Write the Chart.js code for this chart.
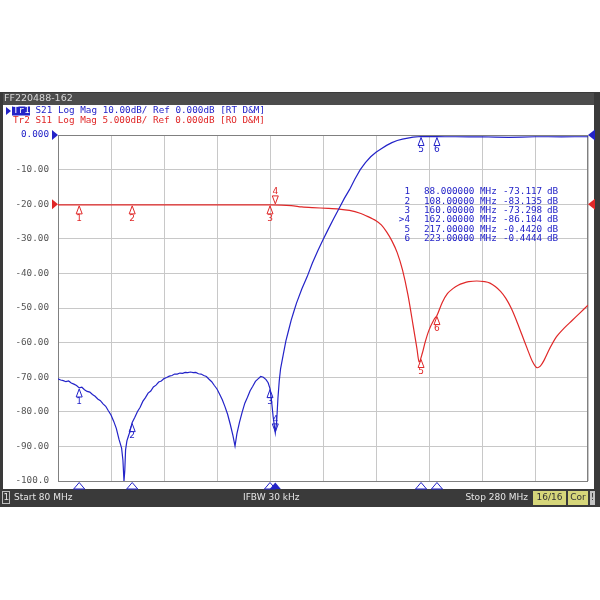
<!DOCTYPE html>
<html>
<head>
<meta charset="utf-8">
<script src="https://cdn.jsdelivr.net/npm/chart.js@4"></script>
<style>
  html, body { margin: 0; padding: 0; background: #fff; }
  #wrap { width: 600px; height: 600px; }
</style>
</head>
<body>
<div id="wrap"><canvas id="vna" width="600" height="600"></canvas></div>
<script>
// Tr1 S21 (dB), 10 dB/div
const s21Freq = [80, 81, 82, 83, 84, 85, 86, 87, 88, 89, 90, 91, 92, 93, 94, 95, 96, 97, 98, 99,
  100, 101, 102, 103, 104, 104.5, 104.9, 105.2, 105.5, 106, 106.5, 107, 108, 109, 110, 111, 112, 113, 114, 115,
  116, 117, 118, 119, 120, 121, 122, 123, 124, 125, 126, 127, 128, 129, 130, 131, 132, 133, 134, 135,
  136, 137, 138, 139, 140, 141, 142, 143, 144, 145, 146, 146.8, 147.5, 148.5, 149.5, 150.5, 151.5, 152.5, 153.5, 154.5,
  155.5, 156.5, 157.5, 158.5, 159.3, 160, 160.6, 161.2, 162, 162.5, 163, 163.5, 164, 165, 166, 167, 168, 169, 170, 172,
  174, 176, 178, 180, 182, 184, 186, 188, 190, 192, 194, 196, 198, 200, 202, 204, 206, 208, 210, 212,
  214, 217, 220, 223, 226, 230, 235, 240, 245, 250, 255, 260, 265, 270, 275, 280];
const s21Db = [-70.5, -70.8, -71.0, -71.3, -71.1, -71.7, -72.0, -72.4, -73.1, -72.9, -73.6, -74.1, -74.3, -75.0, -75.5, -76.3, -76.8, -77.7, -78.4, -79.7,
  -80.9, -82.7, -84.8, -87.9, -90.5, -94.0, -100, -97.0, -91.0, -88.4, -87.2, -86.0, -83.1, -81.6, -79.9, -78.7, -77.0, -75.9, -74.6, -74.0,
  -72.8, -72.3, -71.4, -71.1, -70.4, -70.1, -69.7, -69.5, -69.1, -69.1, -68.8, -68.9, -68.6, -68.7, -68.5, -68.7, -68.6, -69.0, -69.1, -69.5,
  -69.8, -70.6, -71.3, -72.4, -73.4, -74.9, -76.5, -78.5, -80.7, -83.6, -86.8, -89.9, -86.4, -83.0, -80.1, -77.5, -75.8, -73.9, -72.6, -71.2,
  -70.5, -69.8, -70.0, -70.7, -71.6, -73.3, -77.0, -81.5, -86.1, -83.0, -76.0, -71.0, -67.5, -63.5, -59.5, -56.5, -53.5, -51.0, -48.6, -44.5,
  -41.0, -37.0, -33.5, -30.3, -27.2, -24.2, -21.3, -18.4, -15.8, -12.8, -10.1, -8.0, -6.3, -5.0, -4.0, -3.0, -2.2, -1.6, -1.2, -0.9,
  -0.6, -0.44, -0.45, -0.44, -0.5, -0.5, -0.55, -0.5, -0.6, -0.7, -0.6, -0.5, -0.5, -0.55, -0.5, -0.5];

// Tr2 S11 (dB), 5 dB/div, ref 0 dB on the -20 line
const s11Freq = [80, 100, 120, 140, 160, 168, 172, 176, 182, 186, 190, 194, 197, 200, 202, 204, 206, 208, 210, 212,
  214, 215.5, 216.3, 217.5, 218.5, 220, 222, 223, 225, 227, 229, 231, 233, 235, 238, 241, 243, 245, 247, 249,
  251, 253, 255, 257, 259, 260.6, 262, 263.5, 265.5, 268, 271, 274, 277, 280];
const s11Db = [-0.1, -0.1, -0.1, -0.1, -0.1, -0.2, -0.4, -0.5, -0.6, -0.7, -0.9, -1.3, -1.8, -2.4, -3.0, -4.0, -5.3, -7.0, -9.5, -13.0,
  -17.5, -21.0, -22.8, -21.5, -20.0, -18.2, -16.6, -16.1, -14.2, -12.9, -12.2, -11.7, -11.4, -11.2, -11.1, -11.2, -11.4, -11.9, -12.6, -13.6,
  -15.0, -16.8, -18.8, -20.8, -22.7, -23.6, -23.4, -22.5, -20.9, -19.2, -17.9, -16.8, -15.7, -14.6];

// markers
const markerNo = ['1', '2', '3', '4', '5', '6'];
const markerFreq = [88, 108, 160, 162, 217, 223];
const markerS21 = [-73.117, -83.135, -73.298, -86.104, -0.4420, -0.4444];
const markerS11 = [-0.1, -0.1, -0.1, -0.1, -22.3, -16.1];
const activeMarker = 3;

const BLUE = '#2323c8';
const RED = '#e02828';
const MONO = '"DejaVu Sans Mono", monospace';
const SANS = '"DejaVu Sans", sans-serif';

function tri(c, x, y, w, h, dir, fill) {
  c.beginPath();
  if (dir === 'up') { c.moveTo(x, y); c.lineTo(x - w / 2, y + h); c.lineTo(x + w / 2, y + h); }
  if (dir === 'down') { c.moveTo(x, y); c.lineTo(x - w / 2, y - h); c.lineTo(x + w / 2, y - h); }
  if (dir === 'right') { c.moveTo(x, y); c.lineTo(x - h, y - w / 2); c.lineTo(x - h, y + w / 2); }
  if (dir === 'left') { c.moveTo(x, y); c.lineTo(x + h, y - w / 2); c.lineTo(x + h, y + w / 2); }
  c.closePath();
  if (fill) c.fill(); else c.stroke();
}

function traceMarker(c, x, y, label, color, active) {
  c.strokeStyle = color; c.fillStyle = color; c.lineWidth = 1;
  c.font = '9px ' + SANS;
  c.textAlign = 'center';
  if (active) {
    tri(c, x, y - 1, 6, 8, 'down', false);
    c.textBaseline = 'bottom';
    c.fillText(label, x, y - 9);
  } else {
    tri(c, x, y + 1, 6, 8, 'up', false);
    c.textBaseline = 'top';
    c.fillText(label, x, y + 9);
  }
}

const frame = {
  id: 'frame',
  beforeDraw(chart) {
    const c = chart.ctx;
    c.save();
    c.fillStyle = '#fff'; c.fillRect(0, 0, 600, 600);
    c.fillStyle = '#3a3a3a'; c.fillRect(0, 92, 600, 415);
    c.fillStyle = '#4c4c4c'; c.fillRect(3, 93, 591, 12);
    c.fillStyle = '#fff'; c.fillRect(3, 105, 591, 384);

    c.font = '9.5px ' + SANS;
    c.textBaseline = 'middle'; c.textAlign = 'left';
    c.fillStyle = '#d8d8d8';
    c.fillText('FF220488-162', 4, 99);

    // trace header lines
    c.font = '9.3px ' + MONO;
    c.fillStyle = BLUE;
    tri(c, 11, 111, 8, 5, 'right', true);
    c.fillRect(12, 106.5, 18, 9);
    c.fillStyle = '#fff';
    c.fillText('Tr1', 13, 111);
    c.fillStyle = BLUE;
    c.fillText('S21 Log Mag 10.00dB/ Ref 0.000dB [RT D&M]', 35.5, 111);
    c.fillStyle = RED;
    c.fillText('Tr2 S11 Log Mag 5.000dB/ Ref 0.000dB [RO D&M]', 13, 120.5);

    // status bar
    c.fillStyle = '#3a3a3a'; c.fillRect(0, 489, 600, 18);
    c.strokeStyle = '#bdbdbd'; c.lineWidth = 1;
    c.strokeRect(2.5, 491.5, 7, 12);
    c.font = '9px ' + SANS;
    c.fillStyle = '#e6e6e6';
    c.fillText('1', 3.5, 498);
    c.fillText('Start 80 MHz', 14, 498);
    c.fillText('IFBW 30 kHz', 243, 498);
    c.textAlign = 'right';
    c.fillText('Stop 280 MHz', 528, 498);
    c.fillStyle = '#d6d67a';
    c.fillRect(533, 491, 33, 14);
    c.fillRect(568, 491, 20, 14);
    c.fillStyle = '#c4c4c4';
    c.fillRect(590, 491, 5, 14);
    c.fillStyle = '#333';
    c.textAlign = 'center';
    c.fillText('16/16', 549.5, 498);
    c.fillText('Cor', 578, 498);
    c.fillText('!', 592.5, 498);
    c.restore();
  },
  beforeDatasetsDraw(chart) {
    const c = chart.ctx, a = chart.chartArea;
    c.save();
    c.strokeStyle = '#808080'; c.lineWidth = 1;
    c.strokeRect(a.left + 0.5, a.top + 0.5, a.width - 1, a.height);
    c.restore();
  },
  afterDatasetsDraw(chart) {
    const c = chart.ctx, a = chart.chartArea;
    const x = chart.scales.x, y = chart.scales.y, y2 = chart.scales.y2;
    c.save();
    // reference level arrows
    c.fillStyle = BLUE;
    tri(c, a.left, y.getPixelForValue(0), 10, 6, 'right', true);
    tri(c, a.right, y.getPixelForValue(0), 11, 7, 'left', true);
    c.fillStyle = RED;
    tri(c, a.left, y2.getPixelForValue(0), 10, 6, 'right', true);
    tri(c, a.right, y2.getPixelForValue(0), 11, 7, 'left', true);

    // markers on the traces
    markerFreq.forEach((f, i) => {
      const px = x.getPixelForValue(f);
      const act = i === activeMarker;
      traceMarker(c, px, y.getPixelForValue(markerS21[i]), markerNo[i], BLUE, act);
      traceMarker(c, px, y2.getPixelForValue(markerS11[i]), markerNo[i], RED, act);
      // stimulus markers under the grid
      c.strokeStyle = BLUE; c.fillStyle = BLUE;
      tri(c, px, a.bottom + 1.5, 11, 6.5, 'up', act);
    });

    // marker readout table
    c.font = '9.3px ' + MONO;
    c.fillStyle = BLUE;
    c.textBaseline = 'middle';
    markerFreq.forEach((f, i) => {
      const ty = 192 + i * 9.35;
      c.textAlign = 'right';
      c.fillText((i === activeMarker ? '>' : '') + markerNo[i], 410, ty);
      c.textAlign = 'left';
      const fs = f >= 100 ? f.toFixed(5) : f.toFixed(6);
      c.fillText(fs, 424, ty);
      c.fillText('MHz', 480, ty);
      const v = Math.abs(markerS21[i]) < 1 ? markerS21[i].toFixed(4) : markerS21[i].toFixed(3);
      c.fillText(v, 503, ty);
      c.fillText('dB', 547, ty);
    });
    c.restore();
  }
};

new Chart(document.getElementById('vna').getContext('2d'), {
  type: 'line',
  data: {
    datasets: [{
      label: 'S21',
      data: s21Freq.map((f, i) => ({ x: f, y: s21Db[i] })),
      borderColor: BLUE,
      borderWidth: 1.2,
      pointRadius: 0,
      tension: 0,
      yAxisID: 'y'
    }, {
      label: 'S11',
      data: s11Freq.map((f, i) => ({ x: f, y: s11Db[i] })),
      borderColor: RED,
      borderWidth: 1.2,
      pointRadius: 0,
      tension: 0.3,
      yAxisID: 'y2'
    }]
  },
  options: {
    responsive: false,
    animation: false,
    layout: { padding: { top: 135, right: 12, bottom: 119, left: 0 } },
    scales: {
      x: {
        type: 'linear',
        min: 80,
        max: 280,
        ticks: { display: false, stepSize: 20 },
        grid: { color: '#c8c8c8', drawTicks: false },
        border: { display: false },
        afterFit(s) { s.height = 0; }
      },
      y: {
        min: -100,
        max: 0,
        ticks: {
          stepSize: 10,
          padding: 9,
          font: { family: MONO, size: 9.3 },
          color: ctx => ctx.tick.value === 0 ? BLUE : '#555',
          callback: v => v === 0 ? '0.000' : (v === -100 ? '-100.0' : v.toFixed(2))
        },
        grid: { color: '#c8c8c8', drawTicks: false },
        border: { display: false },
        afterFit(s) { s.width = 58; }
      },
      y2: {
        display: false,
        min: -40,
        max: 10
      }
    },
    plugins: {
      legend: { display: false },
      tooltip: { enabled: false }
    }
  },
  plugins: [frame]
});
</script>
</body>
</html>
